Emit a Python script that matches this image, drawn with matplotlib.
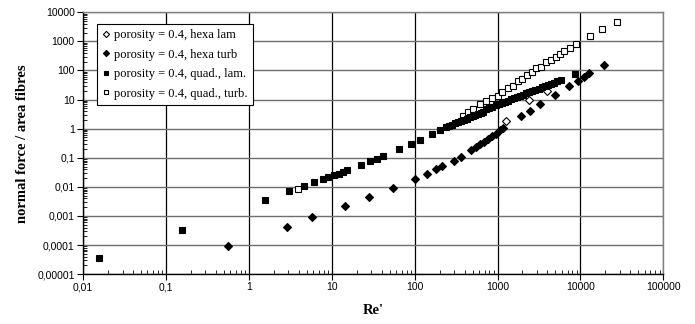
import matplotlib
matplotlib.use("Agg")
import matplotlib.pyplot as plt
from matplotlib.ticker import LogLocator, FixedLocator, FixedFormatter, NullFormatter

# porosity = 0.4, hexa lam (open diamonds)
hexa_lam_re = [1282, 2380, 3960]
hexa_lam_f = [1.80, 9.75, 20.3]

# porosity = 0.4, hexa turb (filled diamonds)
hexa_turb_re = [0.567, 2.92, 5.74, 14.5, 28.4, 54.3, 102, 143, 181, 217, 297, 361, 474,
                549, 612, 684, 771, 861, 954, 1067, 1170, 1945, 2500, 3300, 4900,
                7290, 9360, 11050, 12700, 19200]
hexa_turb_f = [8.9e-5, 4.31e-4, 9.0e-4, 2.19e-3, 4.6e-3, 9.1e-3, 0.0191, 0.0283, 0.0398,
               0.0517, 0.0766, 0.105, 0.178, 0.231, 0.303, 0.343, 0.449, 0.551, 0.666,
               0.865, 1.04, 2.83, 4.19, 7.1, 14.8, 30.1, 44.8, 58.1, 79.6, 154]

# porosity = 0.4, quad., lam. (filled squares)
quad_lam_re = [0.0154, 0.156, 1.57, 3.03, 4.6, 6.06, 7.8, 9.1, 10.7, 12.4, 13.8, 15.2,
               22.8, 29.2, 35.6, 41.9, 64.7, 89.5, 116, 160, 202, 242,
               260, 285, 310, 335, 365, 395, 430, 465, 500, 540, 585, 630, 671,
               736, 800, 870, 950, 1030, 1120, 1220, 1330, 1450, 1580, 1720, 1870,
               2040, 2220, 2420, 2640, 2870, 3130, 3410, 3710, 4040, 4400, 4800,
               5230, 5900, 8530]
quad_lam_f = [3.45e-5, 3.4e-4, 3.44e-3, 7.0e-3, 0.0106, 0.0146, 0.018, 0.0217, 0.0248,
              0.0283, 0.0321, 0.0367, 0.0545, 0.0748, 0.0933, 0.111, 0.204, 0.303,
              0.415, 0.666, 0.935, 1.16,
              1.26, 1.39, 1.53, 1.67, 1.84, 2.02, 2.22, 2.42, 2.63, 2.87, 3.14, 3.41, 3.66,
              4.79, 5.25, 5.77, 6.35, 6.95, 7.62, 8.38, 9.23, 10.1, 11.2, 12.3, 13.5,
              14.9, 16.3, 17.9, 19.8, 21.7, 23.9, 26.2, 28.8, 31.6, 34.8, 38.4,
              42.2, 48.4, 75.9]

# porosity = 0.4, quad., turb. (open squares)
quad_turb_re = [3.89, 385, 443, 508, 612, 736, 853, 1016, 1135, 1342, 1542, 1771, 2000,
                2274, 2642, 2951, 3388, 3890, 4475, 5140, 5740, 6295, 7430, 8770,
                13200, 18200, 27600]
quad_turb_f = [0.00853, 2.83, 3.66, 4.79, 7.1, 9.2, 11.2, 13.7, 17.8, 25.1, 30.1, 42.4,
               51.2, 71.8, 86.1, 118, 135, 190, 229, 297, 368, 452, 591, 811,
               1560, 2650, 4830]

x_ticks = [0.01, 0.1, 1, 10, 100, 1000, 10000, 100000]
x_labels = ["0,01", "0,1", "1", "10", "100", "1000", "10000", "100000"]
y_ticks = [1e-5, 1e-4, 1e-3, 1e-2, 1e-1, 1, 10, 100, 1000, 10000]
y_labels = ["0,00001", "0,0001", "0,001", "0,01", "0,1", "1", "10", "100", "1000", "10000"]

fig = plt.figure(figsize=(6.95, 3.24), dpi=100)
ax = fig.add_axes([0.1194, 0.154, 0.835, 0.808])

ax.plot(quad_turb_re, quad_turb_f, ls="none", marker="s", ms=4.2, mfc="white", mec="black",
        mew=0.8, label="porosity = 0.4, quad., turb.", zorder=3)
ax.plot(hexa_lam_re, hexa_lam_f, ls="none", marker="D", ms=4.2, mfc="white", mec="black",
        mew=0.8, label="porosity = 0.4, hexa lam", zorder=3)
ax.plot(hexa_turb_re, hexa_turb_f, ls="none", marker="D", ms=4.2, mfc="black", mec="black",
        mew=0.8, label="porosity = 0.4, hexa turb", zorder=4)
ax.plot(quad_lam_re, quad_lam_f, ls="none", marker="s", ms=4.2, mfc="black", mec="black",
        mew=0.8, label="porosity = 0.4, quad., lam.", zorder=4)

ax.set_xscale("log")
ax.set_yscale("log")
ax.set_xlim(0.01, 100000)
ax.set_ylim(1e-5, 1e4)

ax.xaxis.set_major_locator(FixedLocator(x_ticks))
ax.xaxis.set_major_formatter(FixedFormatter(x_labels))
ax.yaxis.set_major_locator(FixedLocator(y_ticks))
ax.yaxis.set_major_formatter(FixedFormatter(y_labels))
ax.xaxis.set_minor_locator(LogLocator(base=10, subs=range(2, 10), numticks=20))
ax.yaxis.set_minor_locator(LogLocator(base=10, subs=range(2, 10), numticks=20))
ax.xaxis.set_minor_formatter(NullFormatter())
ax.yaxis.set_minor_formatter(NullFormatter())

ax.tick_params(which="major", direction="out", length=4, width=0.8, labelsize=7.5, pad=2)
ax.tick_params(which="minor", direction="in", length=3, width=0.6)
for lab in ax.get_xticklabels() + ax.get_yticklabels():
    lab.set_family("Liberation Sans")

ax.grid(True, which="major", axis="x", color="black", lw=0.9)
ax.grid(True, which="major", axis="y", color="#707070", lw=1.0)
ax.set_axisbelow(True)

ax.spines["left"].set_color("black")
ax.spines["bottom"].set_color("black")
ax.spines["top"].set_color("#808080")
ax.spines["right"].set_color("#808080")
for s in ax.spines.values():
    s.set_linewidth(1.0)

ax.set_xlabel("Re'", family="Liberation Serif", fontweight="bold", fontsize=10.5, labelpad=8)
ax.set_ylabel("normal force / area fibres", family="Liberation Serif", fontweight="bold",
              fontsize=10.5, labelpad=6)

handles, labels = ax.get_legend_handles_labels()
order = [1, 2, 3, 0]
leg = ax.legend([handles[i] for i in order], [labels[i] for i in order],
                loc="upper left", bbox_to_anchor=(0.024, 0.955), borderaxespad=0,
                prop={"family": "Liberation Serif", "size": 9},
                frameon=True, fancybox=False, edgecolor="black", framealpha=1,
                handlelength=0.6, handletextpad=0.4, labelspacing=0.6, borderpad=0.4,
                markerscale=0.75)
leg.get_frame().set_linewidth(0.8)

fig.savefig("out.png", dpi=100)
